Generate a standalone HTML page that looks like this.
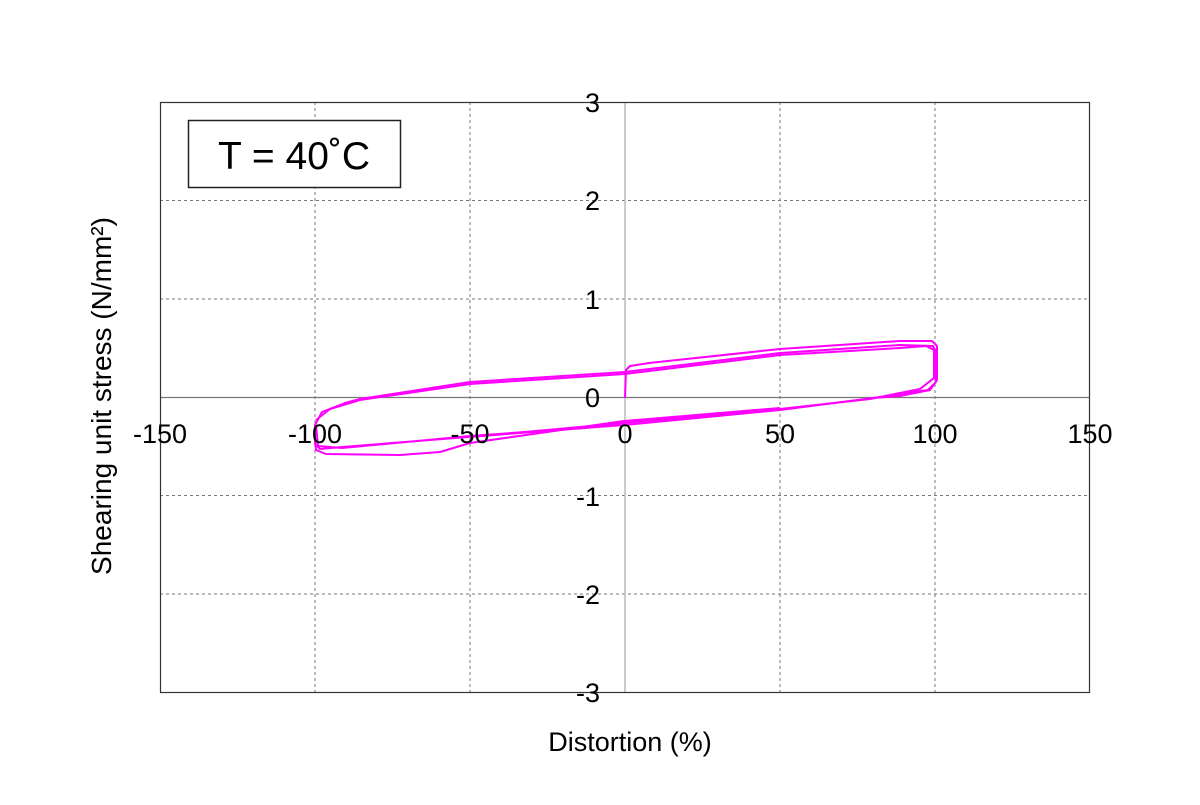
<!DOCTYPE html>
<html><head><meta charset="utf-8"><style>
body{margin:0;background:#fff;}
svg text{font-family:"Liberation Sans",sans-serif;fill:#000;}
</style></head><body>
<svg width="1200" height="800" viewBox="0 0 1200 800">
<rect width="1200" height="800" fill="#fff"/>
<g stroke="#777" stroke-width="1" stroke-dasharray="3,3" fill="none">
<line x1="315" y1="102" x2="315" y2="692"/>
<line x1="470" y1="102" x2="470" y2="692"/>
<line x1="780" y1="102" x2="780" y2="692"/>
<line x1="935" y1="102" x2="935" y2="692"/>
<line x1="160" y1="200.5" x2="1090" y2="200.5"/>
<line x1="160" y1="299" x2="1090" y2="299"/>
<line x1="160" y1="495.5" x2="1090" y2="495.5"/>
<line x1="160" y1="594" x2="1090" y2="594"/>
</g>
<line x1="625" y1="102" x2="625" y2="692" stroke="#bbb" stroke-width="1.5"/>
<line x1="160" y1="397.5" x2="1090" y2="397.5" stroke="#777" stroke-width="1.2"/>
<rect x="160.5" y="102.5" width="929" height="590" fill="none" stroke="#333" stroke-width="1.2"/>
<rect x="188.5" y="120.5" width="212" height="67" fill="#fff" stroke="#222" stroke-width="1.5"/>
<text x="294" y="169" font-size="39" text-anchor="middle">T = 40˚C</text>
<g fill="none" stroke="#f0f" stroke-width="2" stroke-linejoin="round">
<path d="M625,398 L626,370 L630,366 L649,363 L780,349 L900,341 L932,341 L937,346 L937,380 L930,390 L900,396 L873,398 L780,410 L624,425 L468,437 L342,447 L320,449 L315,444 L315,425 L322,412 L345,403 L360,399 L470,382 L625,372 L780,353 L900,345 L933,346 L936,352 L936,382 L928,390 L873,398 L780,410 L624,425 L470,436 L342,448 L318,446 L316,425"/>
<path d="M315,440 L316,450 L326,454 L400,455 L440,452 L470,443 L624,421 L780,408"/>
<path d="M470,437 L624,423 L780,409 L870,399 L920,389 L934,378 L934,350 L926,346 L900,348 L780,355 L625,374 L470,384 L360,400 L330,409 L316,420"/>
</g>
<g font-size="27" text-anchor="middle">
<text x="160" y="443">-150</text>
<text x="315" y="443">-100</text>
<text x="470" y="443">-50</text>
<text x="625" y="443">0</text>
<text x="780" y="443">50</text>
<text x="935" y="443">100</text>
<text x="1090" y="443">150</text>
</g>
<g font-size="27" text-anchor="end">
<text x="600" y="112">3</text>
<text x="600" y="210">2</text>
<text x="600" y="309">1</text>
<text x="600" y="407">0</text>
<text x="600" y="506">-1</text>
<text x="600" y="604">-2</text>
<text x="600" y="702">-3</text>
</g>
<text x="630" y="751" font-size="27" text-anchor="middle">Distortion (%)</text>
<text transform="translate(111,396) rotate(-90)" font-size="28" text-anchor="middle">Shearing unit stress (N/mm²)</text>
</svg>
</body></html>
